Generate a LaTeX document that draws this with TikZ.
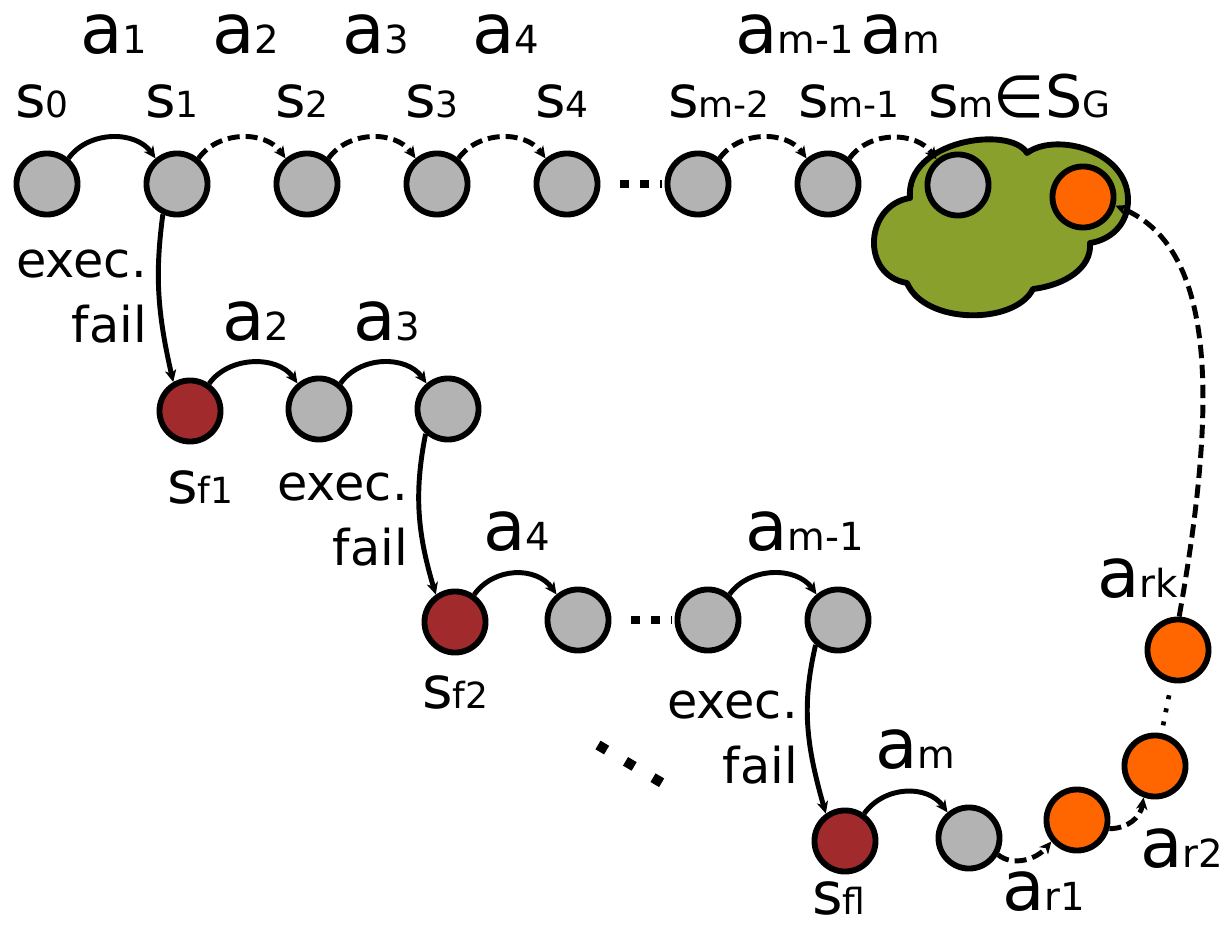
\documentclass[tikz,border=0pt]{standalone}
\usepackage{fontspec}
\setmainfont{DejaVu Sans}
\usetikzlibrary{arrows.meta}

\definecolor{stgray}{RGB}{179,179,179}
\definecolor{stred}{RGB}{160,42,44}
\definecolor{storange}{RGB}{255,102,0}
\definecolor{goalgreen}{RGB}{137,160,44}

% small index text that sits on the baseline
\newcommand\ssub[1]{{\fontsize{27}{27}\selectfont #1}}
\newcommand\asub[1]{{\fontsize{29}{29}\selectfont #1}}

\begin{document}
\begin{tikzpicture}[x=0.75pt,y=-0.75pt,
  state/.style={circle, draw=black, line width=4.4pt, minimum size=45.8pt, inner sep=0pt},
  plain/.style={state, fill=stgray},
  failed/.style={state, fill=stred},
  repair/.style={state, fill=storange},
  act/.style={line width=3.7pt, -{Stealth[length=9pt,width=8.5pt,inset=2.5pt]}},
  planned/.style={act, dash pattern=on 9pt off 4.5pt},
  longplanned/.style={act, dash pattern=on 10pt off 5pt},
  gapdots/.style={line width=6.5pt, dash pattern=on 6.5pt off 8.5pt, shorten <=15pt, shorten >=2pt},
  thindots/.style={line width=3.5pt, dash pattern=on 3pt off 7pt, shorten <=6pt, shorten >=6pt},
  slab/.style={font=\fontsize{44}{50}\selectfont, anchor=base west, inner sep=0pt, text depth=0pt},
  alab/.style={font=\fontsize{52}{58}\selectfont, anchor=base west, inner sep=0pt},
  flab/.style={font=\fontsize{37}{42}\selectfont, anchor=base east, inner sep=0pt},
]
\useasboundingbox (0,0) rectangle (1223,930);

% goal region
\draw[line width=4.4pt, fill=goalgreen, line join=round]
  (910,198) .. controls (905,140) and (1010,125) .. (1027,153)
  .. controls (1055,132) and (1128,150) .. (1128,200)
  .. controls (1128,225) and (1110,240) .. (1090,243)
  .. controls (1092,268) and (1065,285) .. (1033,289)
  .. controls (1015,325) and (925,325) .. (907,283)
  .. controls (860,275) and (865,205) .. cycle;

% states of the plan
\node[plain] (s0) at (47,184) {};
\node[plain] (s1) at (177,184) {};
\node[plain] (s2) at (307,184) {};
\node[plain] (s3) at (437,184) {};
\node[plain] (s4) at (567,184) {};
\node[plain] (sm2) at (698,184) {};
\node[plain] (sm1) at (828,184) {};
\node[plain] (sm) at (958,185) {};
\node[repair] (g) at (1083,197) {};

\node[failed] (f1) at (190,411) {};
\node[plain] (b2) at (319,409) {};
\node[plain] (b3) at (448,409) {};

\node[failed] (f2) at (455,622) {};
\node[plain] (c4) at (578,620) {};
\node[plain] (c5) at (708,620) {};
\node[plain] (c6) at (838,620) {};

\node[failed] (fl) at (845,841) {};
\node[plain] (d1) at (969,838) {};
\node[repair] (r1) at (1077,820) {};
\node[repair] (r2) at (1155,766) {};
\node[repair] (rk) at (1178,650) {};

% actions along the plan
\draw[act] (s0.50) .. controls +(20,-28) and +(-20,-28) .. (s1.130);
\draw[planned] (s1.50) .. controls +(20,-28) and +(-20,-28) .. (s2.130);
\draw[planned] (s2.50) .. controls +(20,-28) and +(-20,-28) .. (s3.130);
\draw[planned] (s3.50) .. controls +(20,-28) and +(-20,-28) .. (s4.130);
\draw[planned] (sm2.50) .. controls +(20,-28) and +(-20,-28) .. (sm1.130);
\draw[planned] (sm1.50) .. controls +(20,-28) and +(-20,-28) .. (sm.130);
\draw[gapdots] (s4) -- (sm2);

\draw[act] (f1.55) .. controls +(20,-28) and +(-20,-28) .. (b2.130);
\draw[act] (b2.50) .. controls +(20,-28) and +(-20,-28) .. (b3.130);

\draw[act] (f2.55) .. controls +(20,-28) and +(-20,-28) .. (c4.130);
\draw[act] (c5.50) .. controls +(20,-28) and +(-20,-28) .. (c6.130);
\draw[gapdots] (c4) -- (c5);

\draw[act] (fl.55) .. controls +(20,-28) and +(-20,-28) .. (d1.130);

% execution failures
\draw[act] (s1.245) .. controls +(-8,60) and +(-16,-70) .. (f1.120);
\draw[act] (b3.228) .. controls +(-12,60) and +(-18,-60) .. (f2.125);
\draw[act] (c6.228) .. controls +(-14,60) and +(-20,-70) .. (fl.125);

% repair actions
\draw[planned] (d1.-30) .. controls +(15,12) and +(-15,18) .. (r1.220);
\draw[planned] (r1.-15) .. controls +(18,0) and +(-3,20) .. (r2.250);
\draw[thindots] (r2) -- (rk);
\draw[longplanned] (rk.88) .. controls (1214,420) and (1222,250) .. (g.-15);

% further failures
\draw[line width=7.5pt, dash pattern=on 7.5pt off 16.5pt] (598,745) -- (662,783);

% state labels
\node[slab] (ls0) at (15,118) {s\ssub{0}};
\node[slab] (ls1) at (145,118) {s\ssub{1}};
\node[slab] (ls2) at (275,118) {s\ssub{2}};
\node[slab] (ls3) at (405,118) {s\ssub{3}};
\node[slab] (ls4) at (535,118) {s\ssub{4}};
\node[slab] (lsm2) at (668,118) {s\ssub{m-2}};
\node[slab] (lsm1) at (798,118) {s\ssub{m-1}};
\node[slab] (lsm) at (928,118) {s\ssub{m}∈S\ssub{G}};
\node[slab] (lf1) at (167,503) {s\ssub{f1}};
\node[slab] (lf2) at (422,708) {s\ssub{f2}};
\node[slab] (lfl) at (812,914) {s\ssub{fl}};

% action labels
\node[alab] (la1) at (80,54) {a\asub{1}};
\node[alab] (la2) at (212,54) {a\asub{2}};
\node[alab] (la3) at (342,54) {a\asub{3}};
\node[alab] (la4) at (472,54) {a\asub{4}};
\node[alab] (lam1) at (735,54) {a\asub{m-1}};
\node[alab] (lam) at (860,54) {a\asub{m}};

\node[alab] (lb2) at (222,340) {a\asub{2}};
\node[alab] (lb3) at (353,340) {a\asub{3}};
\node[alab] (lc4) at (483,550) {a\asub{4}};
\node[alab] (lc6) at (745,550) {a\asub{m-1}};
\node[alab] (ld1) at (875,768) {a\asub{m}};

\node[alab] (lr1) at (1002,910) {a\asub{r1}};
\node[alab] (lr2) at (1140,867) {a\asub{r2}};
\node[alab] (lrk) at (1097,597) {a\asub{rk}};

% failure labels
\node[flab] (le1) at (147,278) {exec.};
\node[flab] (lx1) at (147,343) {fail};
\node[flab] (le2) at (408,500) {exec.};
\node[flab] (lx2) at (408,565) {fail};
\node[flab] (le3) at (798,718) {exec.};
\node[flab] (lx3) at (798,783) {fail};
\end{tikzpicture}
\end{document}
